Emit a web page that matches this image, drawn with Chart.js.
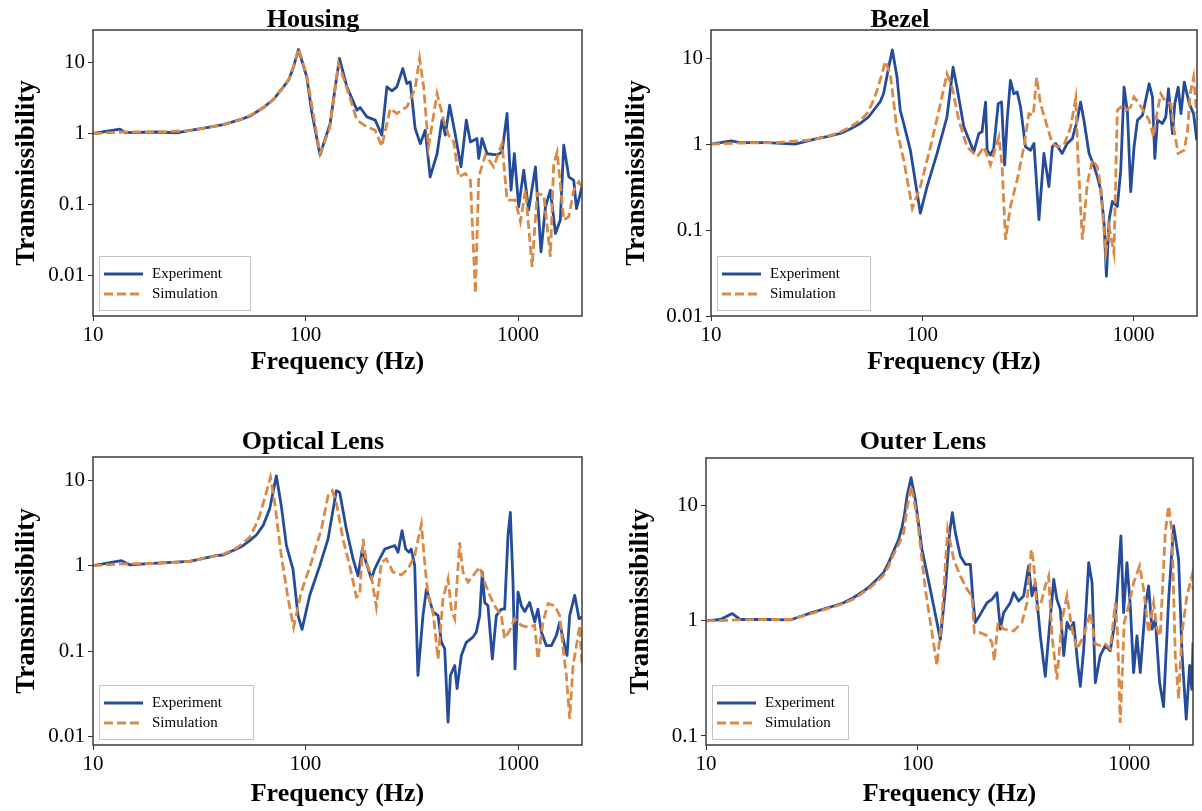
<!DOCTYPE html>
<html>
<head>
<meta charset="utf-8">
<title>Transmissibility</title>
<script src="https://cdn.jsdelivr.net/npm/chart.js@4"></script>
<style>
  html, body { margin: 0; padding: 0; background: #fff; }
  body { width: 1202px; height: 811px; position: relative; overflow: hidden; }
  canvas { position: absolute; }
</style>
</head>
<body>
<canvas id="housing"></canvas>
<canvas id="bezel"></canvas>
<canvas id="optical"></canvas>
<canvas id="outer"></canvas>
<script>
// tick labels
const xTicks = [10, 100, 1000]
const yTicksWide = [0.01, 0.1, 1, 10]
const yTicksShort = [0.1, 1, 10]
const seriesNames = ['Experiment', 'Simulation']

// [frequency Hz, transmissibility]
const housingExp = [[10,1.0],[13.4,1.15],[14.2,1.03],[20,1.05],[24.8,1.02],[28.7,1.11],[34.3,1.21],[41.1,1.33],[49.2,1.57],[54.8,1.75],[63.4,2.32],[70.6,3.0],[78.7,4.52],[83.2,5.6],[87.8,8.6],[92.7,15.1],[101.4,6.25],[107,2.0],[117,0.5],[130.6,1.38],[138,4.5],[144.5,11.3],[156.6,4.52],[174.6,2.13],[180.8,2.32],[194.5,1.71],[212.8,1.54],[228.6,0.95],[241.5,4.52],[255.2,3.97],[269,4.52],[287,8.17],[300,5.03],[311,5.31],[328,1.18],[346.7,0.72],[366,1.11],[386,0.246],[416,0.52],[438.5,1.54],[455,0.95],[476.7,2.5],[507,0.95],[539,0.34],[571,1.54],[597,0.76],[641,0.85],[653,0.446],[677,0.85],[715,0.52],[796,0.5],[841,0.55],[888,1.91],[927,0.16],[961,0.52],[1007,0.093],[1064,0.306],[1122,0.084],[1208,0.34],[1283,0.0218],[1346,0.093],[1420,0.16],[1500,0.0395],[1581,0.061],[1641,0.686],[1734,0.246],[1829,0.22],[1884,0.088],[2000,0.178]]
const housingSim = [[10,1.0],[14,1.05],[20,1.05],[28.7,1.1],[30,1.12],[41,1.33],[50,1.6],[55,1.8],[63.4,2.3],[70.6,3.0],[78.7,4.5],[83.2,5.7],[87.8,8.5],[92.7,15.6],[101.4,6.5],[117,0.52],[130,1.2],[143,9.6],[156.6,4.3],[174.6,1.54],[194.5,1.24],[212.8,1.11],[228.6,0.66],[250.6,2.24],[269,1.91],[300,2.37],[328,4.28],[344,11.3],[359.6,4.52],[379,0.65],[416,3.64],[446.7,1.54],[471,0.95],[498,0.76],[526,0.246],[565,0.275],[597,0.22],[630,0.0057],[653,0.246],[702,0.5],[768,0.34],[841,0.72],[888,0.116],[971,0.116],[1026,0.058],[1084,0.16],[1165,0.0134],[1230,0.144],[1322,0.136],[1420,0.0186],[1472,0.38],[1528,0.55],[1641,0.061],[1734,0.068],[1829,0.16],[1932,0.21],[2000,0.178]]

const bezelExp = [[10,1.0],[12.5,1.09],[13.7,1.04],[18.4,1.04],[25,1.0],[31.7,1.16],[35.4,1.22],[40.9,1.33],[45.6,1.5],[50.9,1.74],[55.7,2.07],[58.9,2.48],[63.2,3.1],[65.6,3.86],[69.4,7.87],[72.2,12.5],[76,6.0],[78.7,2.48],[81.7,1.74],[87.9,0.85],[98,0.157],[105.4,0.32],[117.6,0.78],[131,2.07],[140,7.87],[146,4.61],[157.4,1.59],[175.5,0.815],[185.4,1.33],[192,1.39],[199.5,3.09],[203,0.85],[210.5,0.746],[218,0.89],[229,2.96],[237.5,3.09],[245.6,0.571],[252.5,1.9],[261.6,5.51],[271.5,3.86],[281.6,4.04],[292,2.71],[308.5,0.93],[326,0.85],[338,1.02],[357,0.132],[377,0.78],[398,0.32],[413,0.93],[428.5,1.02],[460,0.78],[486,1.02],[514,1.16],[542,1.9],[562,3.09],[583,1.9],[616.6,0.78],[639.5,0.624],[675,0.419],[700,0.293],[726,0.121],[745,0.029],[767,0.132],[795,0.215],[839,0.188],[871,0.5],[903,4.61],[937,2.37],[971,0.28],[1007,0.93],[1045,1.9],[1104,2.17],[1187,5.04],[1231,3.54],[1263,0.683],[1300,1.9],[1373,1.74],[1423,2.07],[1466,4.41],[1531,1.33],[1570,2.96],[1629,4.61],[1679,2.26],[1741,5.27],[1838,2.96],[1927,2.26],[1995,1.11]]
const bezelSim = [[10,1.0],[14,1.03],[20,1.04],[30,1.12],[35,1.22],[40,1.35],[45,1.55],[50.9,1.9],[54.7,2.26],[58,3.0],[61.1,4.2],[64.5,6.58],[66.9,9.22],[70.6,6.58],[76,1.45],[81.7,0.653],[89.8,0.18],[98,0.32],[109.4,0.93],[122,2.96],[131,6.58],[138.6,4.61],[149,1.9],[163,0.93],[182,0.713],[196,0.93],[210.5,0.571],[222,0.891],[230.7,1.216],[239,0.546],[248,0.0773],[261.6,0.188],[281.6,0.383],[303,0.931],[320,2.264],[335.6,2.17],[348,6.0],[363,2.96],[391,1.587],[413,1.018],[436.5,0.931],[469,0.974],[504.5,1.587],[533,3.41],[547,0.653],[573,0.0773],[605,0.35],[639.5,0.653],[675,0.546],[700,0.32],[739,0.0541],[767,0.11],[809,0.0541],[839,2.477],[871,2.71],[920,2.477],[971,2.71],[1007,3.54],[1064,2.96],[1124,2.37],[1187,1.9],[1245,1.216],[1300,2.477],[1348,3.86],[1423,3.09],[1504,2.96],[1559,1.45],[1629,0.78],[1741,0.852],[1805,1.45],[1857,3.86],[1927,6.0],[1995,2.26]]

const opticalExp = [[10,1.0],[13.6,1.14],[14.9,1.02],[19.9,1.07],[28.5,1.12],[38,1.31],[40.9,1.33],[47.3,1.56],[50.8,1.71],[54.6,1.96],[58.7,2.28],[63.1,2.93],[67.8,4.58],[72.9,11.2],[76.9,5.02],[81.3,1.71],[87.3,0.91],[92.2,0.26],[96.3,0.18],[104.7,0.45],[116.7,1.0],[127.7,2.05],[139.6,7.51],[144.8,7.18],[155.6,2.68],[167.4,1.2],[176.7,0.76],[185,1.56],[193.3,1.07],[204,0.7],[211.5,0.91],[223.3,1.2],[236,1.56],[249,1.64],[263,1.71],[272.5,1.43],[284.6,2.56],[296,1.56],[307,1.43],[314.5,1.56],[326.5,1.0],[338,0.052],[357,0.26],[370.6,0.53],[398,0.29],[420.6,0.26],[435.6,0.127],[451.8,0.107],[468.6,0.0148],[480.7,0.052],[503.6,0.068],[516.6,0.0365],[541,0.089],[571,0.127],[614,0.146],[636.5,0.167],[660,0.26],[679,0.84],[697,0.37],[722,0.34],[757,0.081],[790.5,0.26],[835,0.31],[865,0.31],[897,2.24],[920,4.19],[947,0.64],[968,0.062],[1000,0.49],[1037,0.34],[1075,0.29],[1135,0.37],[1198,0.22],[1241,0.31],[1288,0.167],[1359,0.116],[1436,0.116],[1515,0.153],[1571,0.218],[1629,0.139],[1701,0.089],[1750,0.26],[1848,0.45],[1937,0.24],[2000,0.25]]
const opticalSim = [[10,1.0],[14,1.05],[20,1.06],[28.5,1.12],[38,1.31],[41,1.36],[47.3,1.6],[51,1.85],[54.6,2.14],[58,2.9],[60.8,3.83],[65.4,7.18],[68.4,10.8],[71.6,5.48],[76.9,1.31],[82.8,0.41],[87.9,0.19],[95.5,0.49],[106.5,1.09],[118.8,2.68],[127.7,6.56],[133.7,7.51],[139.6,5.48],[150,2.05],[161.4,1.0],[173.5,0.43],[180,0.45],[186.6,2.05],[193.3,1.09],[204,0.76],[215.4,0.33],[227.4,1.09],[240,1.2],[258,0.84],[282.5,0.78],[303.5,0.91],[326.5,1.31],[351,3.06],[363.8,1.09],[377,0.45],[398,0.29],[420.6,0.081],[443.6,0.41],[468.6,0.7],[485.6,0.31],[503.6,0.24],[531,1.87],[550.7,0.84],[582,0.64],[614,0.76],[660,0.96],[697,0.64],[736,0.45],[776,0.34],[835,0.26],[865,0.14],[913,0.174],[964,0.24],[1037,0.2],[1114,0.19],[1198,0.2],[1241,0.081],[1312,0.22],[1384,0.36],[1488,0.34],[1571,0.26],[1629,0.107],[1688,0.052],[1750,0.0162],[1815,0.068],[1883,0.116],[1951,0.2],[2000,0.068]]

const outerExp = [[10,1.0],[11.7,1.03],[13.3,1.16],[14.5,1.03],[19.4,1.03],[25,1.02],[31.1,1.17],[40.1,1.35],[44.7,1.44],[49.9,1.6],[55.6,1.82],[59.8,2.02],[64.3,2.3],[69,2.63],[72.9,3.2],[77,4.06],[81.3,5.1],[84.3,6.48],[86.5,8.2],[89.1,12.2],[93.1,17.6],[97.5,11.4],[104.8,4.2],[114.7,1.89],[123.4,0.97],[128,0.69],[135.2,1.89],[141.6,5.86],[145.8,8.75],[150.7,5.86],[159.1,3.67],[168,3.11],[177.4,3.11],[182.5,1.54],[187.2,0.97],[197.7,1.14],[212.6,1.44],[224.5,1.54],[237,1.76],[246,0.85],[254.8,1.18],[274,1.44],[284.3,1.76],[300,1.49],[316.7,1.65],[334.4,3.01],[346.8,1.65],[359.6,2.15],[380,0.74],[401,0.33],[416,0.74],[439.6,2.3],[455,1.54],[472,1.26],[490,0.5],[508,0.97],[526,0.85],[546,0.97],[570,0.43],[587,0.27],[609,0.57],[643,3.21],[667,2.15],[691,0.29],[729,0.5],[770,0.61],[813,0.55],[859,1.03],[913,5.48],[940,1.18],[975,3.21],[1011,1.35],[1048,0.355],[1087,0.74],[1127,0.355],[1191,1.35],[1234,2.02],[1280,0.85],[1327,1.03],[1391,0.29],[1452,0.18],[1534,1.54],[1620,6.71],[1710,3.44],[1774,0.53],[1858,0.14],[1927,0.41],[1976,0.254],[2000,0.65]]
const outerSim = [[10,1.0],[14,1.02],[20,1.03],[25,1.03],[31.1,1.15],[40.1,1.33],[44.7,1.42],[49.9,1.55],[55.6,1.78],[59.8,1.95],[64.3,2.2],[69,2.5],[72.9,3.0],[77,3.8],[81.3,4.6],[85.9,5.86],[89,9.5],[93.1,14.9],[99.3,8.18],[108.7,1.89],[116.9,0.79],[123.4,0.41],[130.3,1.1],[138.6,6.26],[148,3.44],[159.1,2.46],[171,1.89],[180.6,1.65],[185.3,0.79],[197.7,0.79],[214.3,0.74],[224.5,0.65],[230.2,0.45],[239.7,0.97],[254.8,0.85],[284.3,0.82],[311,0.97],[328.6,1.44],[344.4,4.2],[353,3.21],[366.5,1.26],[380,1.35],[401,2.02],[416,2.46],[431.5,0.74],[455,0.31],[481,1.03],[508,1.65],[536,0.85],[566,0.57],[609,0.74],[654.6,1.18],[691,0.63],[729,0.61],[770,0.63],[813,0.57],[859,1.44],[881,0.74],[906,0.13],[946.5,0.97],[993,1.35],[1048,2.15],[1119,3.01],[1169,1.89],[1234,0.79],[1303,1.44],[1352,0.85],[1400,0.74],[1479,5.86],[1534,10.0],[1592,5.86],[1649,0.5],[1710,0.21],[1774,0.79],[1872,1.65],[1976,2.46],[2000,1.89]]

const expColor = '#244c9b'
const simColor = '#da8a46'
const serif = '"Liberation Serif", "Times New Roman", serif'

Chart.defaults.font.family = serif
Chart.defaults.color = '#000'

// frame, title and legend box
const panelDecor = {
  id: 'panelDecor',
  afterDraw(chart, args, o) {
    const ctx = chart.ctx
    const a = chart.chartArea
    ctx.save()
    ctx.strokeStyle = '#3c3c3c'
    ctx.lineWidth = 1.5
    ctx.strokeRect(a.left, a.top, a.right - a.left, a.bottom - a.top)

    ctx.fillStyle = '#000'
    ctx.font = 'bold 26px ' + serif
    ctx.textAlign = 'center'
    ctx.textBaseline = 'alphabetic'
    ctx.fillText(o.title, o.titleX, o.titleY)

    const lx = a.left + 6
    const ly = a.bottom - 6 - 54
    ctx.fillStyle = 'rgba(255,255,255,0.85)'
    ctx.fillRect(lx, ly, o.legendW, 54)
    ctx.strokeStyle = '#c4c4c4'
    ctx.lineWidth = 1
    ctx.strokeRect(lx + 0.5, ly + 0.5, o.legendW, 54)
    chart.data.datasets.forEach((ds, i) => {
      const y = ly + 18 + i * 20
      ctx.strokeStyle = ds.borderColor
      ctx.lineWidth = ds.borderWidth
      ctx.setLineDash(ds.borderDash || [])
      ctx.beginPath()
      ctx.moveTo(lx + 5, y)
      ctx.lineTo(lx + 44, y)
      ctx.stroke()
      ctx.setLineDash([])
      ctx.fillStyle = '#000'
      ctx.font = '15px ' + serif
      ctx.textAlign = 'left'
      ctx.textBaseline = 'middle'
      ctx.fillText(ds.label, lx + 53, y)
    })
    ctx.restore()
  }
}

const makePanel = (id, p) => {
  const canvas = document.getElementById(id)
  canvas.width = p.w
  canvas.height = p.h
  canvas.style.left = p.left + 'px'
  canvas.style.top = p.top + 'px'

  const tickFont = { family: serif, size: 21 }
  const titleFont = { family: serif, size: 26, weight: 'bold' }

  return new Chart(canvas, {
    type: 'line',
    data: {
      datasets: [
        {
          label: seriesNames[0],
          data: p.exp.map(([x, y]) => ({ x, y })),
          borderColor: expColor,
          borderWidth: 2.8,
          borderJoinStyle: 'round',
          pointRadius: 0,
          tension: 0,
          order: 1
        },
        {
          label: seriesNames[1],
          data: p.sim.map(([x, y]) => ({ x, y })),
          borderColor: simColor,
          borderWidth: 2.8,
          borderDash: [9, 4],
          pointRadius: 0,
          tension: 0,
          order: 0
        }
      ]
    },
    options: {
      responsive: false,
      animation: false,
      events: [],
      layout: { padding: { left: 0, top: p.padTop, right: p.padRight, bottom: p.padBottom } },
      scales: {
        x: {
          type: 'logarithmic',
          min: 10,
          max: 2000,
          afterBuildTicks: s => { s.ticks = xTicks.map(v => ({ value: v })) },
          afterFit: s => { s.height = p.xH },
          ticks: { font: tickFont, color: '#000', padding: 2, maxRotation: 0, autoSkip: false, callback: v => String(v) },
          grid: { drawOnChartArea: false, tickLength: 5, color: '#333' },
          border: { display: false },
          title: { display: true, text: 'Frequency (Hz)', font: titleFont, color: '#000', padding: { top: 0, bottom: p.xTitlePad } }
        },
        y: {
          type: 'logarithmic',
          min: p.ymin,
          max: p.ymax,
          afterBuildTicks: s => { s.ticks = p.yTicks.map(v => ({ value: v })) },
          afterFit: s => { s.width = p.yW },
          ticks: { font: tickFont, color: '#000', padding: 3, autoSkip: false, callback: v => String(v) },
          grid: { drawOnChartArea: false, tickLength: 5, color: '#333' },
          border: { display: false },
          title: { display: true, text: 'Transmissibility', font: { family: serif, size: 27, weight: 'bold' }, color: '#000', padding: { top: p.yTitlePad, bottom: 0 } }
        }
      },
      plugins: {
        legend: { display: false },
        tooltip: { enabled: false },
        panelDecor: { title: p.title, titleX: p.titleX - p.left, titleY: p.titleY - p.top, legendW: p.legendW }
      }
    },
    plugins: [panelDecor]
  })
}

makePanel('housing', {
  left: 0, top: 0, w: 600, h: 400,
  padTop: 30, padRight: 18, padBottom: 14, yW: 93, xH: 70,
  ymin: 0.00274, ymax: 28.4, yTicks: yTicksWide,
  yTitlePad: 11, xTitlePad: 8,
  title: 'Housing', titleX: 313, titleY: 27, legendW: 151,
  exp: housingExp, sim: housingSim
})

makePanel('bezel', {
  left: 610, top: 0, w: 592, h: 400,
  padTop: 30, padRight: 5, padBottom: 14, yW: 101, xH: 70,
  ymin: 0.01, ymax: 21.3, yTicks: yTicksWide,
  yTitlePad: 11, xTitlePad: 8,
  title: 'Bezel', titleX: 900, titleY: 27, legendW: 153,
  exp: bezelExp, sim: bezelSim
})

makePanel('optical', {
  left: 0, top: 410, w: 600, h: 401,
  padTop: 47, padRight: 18, padBottom: 0, yW: 93, xH: 66,
  ymin: 0.008, ymax: 18.6, yTicks: yTicksWide,
  yTitlePad: 11, xTitlePad: 1,
  title: 'Optical Lens', titleX: 313, titleY: 449, legendW: 154,
  exp: opticalExp, sim: opticalSim
})

makePanel('outer', {
  left: 610, top: 410, w: 592, h: 401,
  padTop: 48, padRight: 9, padBottom: 0, yW: 96, xH: 66,
  ymin: 0.0835, ymax: 26.1, yTicks: yTicksShort,
  yTitlePad: 15, xTitlePad: 1,
  title: 'Outer Lens', titleX: 923, titleY: 449, legendW: 136,
  exp: outerExp, sim: outerSim
})
</script>
</body>
</html>
